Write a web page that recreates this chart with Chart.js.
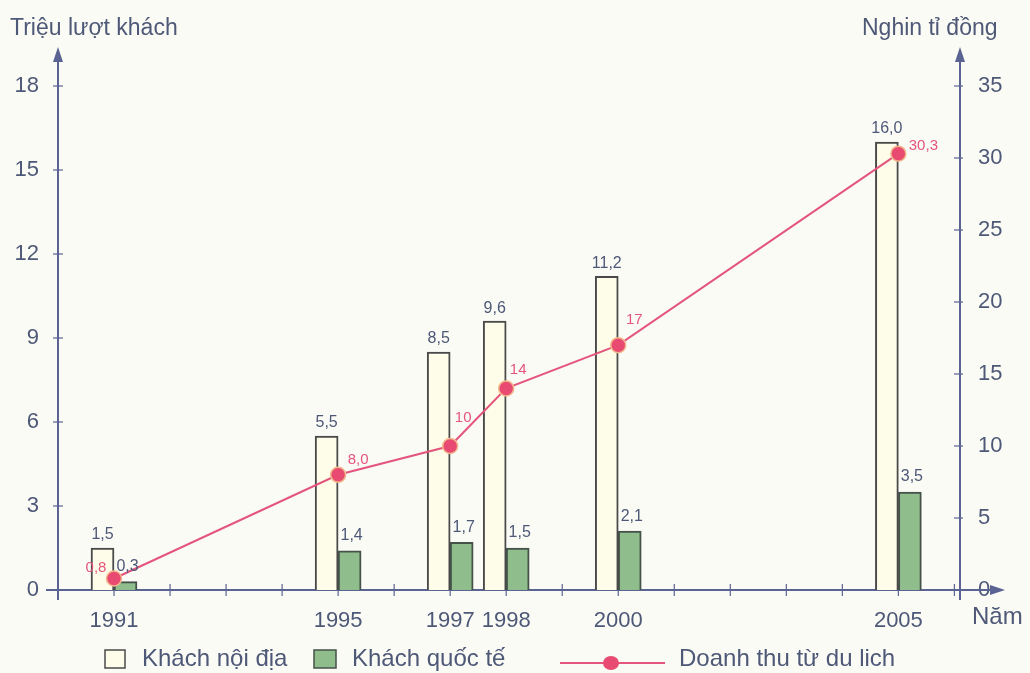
<!DOCTYPE html>
<html>
<head>
<meta charset="utf-8">
<script src="https://cdn.jsdelivr.net/npm/chart.js@4.4.1/dist/chart.umd.min.js"></script>
<style>
  html, body { margin: 0; padding: 0; background: #fbfbf6; }
  #wrap { width: 1030px; height: 673px; }
</style>
</head>
<body>
<div id="wrap"><canvas id="chart"></canvas></div>
<script>
// --- DATA ---
const years = [1991, 1995, 1997, 1998, 2000, 2005];
const domestic = [1.5, 5.5, 8.5, 9.6, 11.2, 16.0];
const international = [0.3, 1.4, 1.7, 1.5, 2.1, 3.5];
const revenue = [0.8, 8.0, 10, 14, 17, 30.3];
const revenueLabels = ['0,8', '8,0', '10', '14', '17', '30,3'];
const leftTicks = [0, 3, 6, 9, 12, 15, 18];
const rightTicks = [0, 5, 10, 15, 20, 25, 30, 35];

// --- STYLE ---
const FONT = '"Liberation Sans", Arial, sans-serif';
const TEXT = '#4e5877';
const AXIS = '#5a6392';
const PINK = '#e4557d';
const GREEN = '#8fbd8b';
// where each revenue label sits relative to its point
const revLabelOffset = [[-18, -11], [20, -15], [13, -28], [12, -19], [16, -25], [25, -8]];

const fmt = v => v.toFixed(1).replace('.', ',');

function seg(ctx, x1, y1, x2, y2) {
    ctx.beginPath(); ctx.moveTo(x1, y1); ctx.lineTo(x2, y2); ctx.stroke();
}

const decor = {
    id: 'decor',
    beforeDraw(chart) {
        const ctx = chart.ctx;
        ctx.save();
        ctx.fillStyle = '#fbfbf6';
        ctx.fillRect(0, 0, chart.width, chart.height);
        ctx.restore();
    },
    beforeDatasetsDraw(chart) {
        const { ctx, chartArea: a, scales: { x, y, y1 } } = chart;
        ctx.save();
        ctx.strokeStyle = AXIS;
        ctx.fillStyle = AXIS;
        ctx.lineWidth = 2;

        // vertical axes with arrows
        [a.left, a.right].forEach(px => {
            seg(ctx, px, a.bottom + 10, px, 58);
            ctx.beginPath();
            ctx.moveTo(px, 47); ctx.lineTo(px - 5, 62); ctx.lineTo(px + 5, 62); ctx.closePath();
            ctx.fill();
        });
        // x axis with arrow
        seg(ctx, 46, a.bottom, 995, a.bottom);
        ctx.beginPath();
        ctx.moveTo(1005, a.bottom); ctx.lineTo(990, a.bottom - 5); ctx.lineTo(990, a.bottom + 5); ctx.closePath();
        ctx.fill();

        ctx.lineWidth = 1.2;
        leftTicks.forEach(v => { const py = y.getPixelForValue(v); seg(ctx, a.left - 5, py, a.left + 5, py); });
        rightTicks.forEach(v => { const py = y1.getPixelForValue(v); seg(ctx, a.right - 6, py, a.right + 3, py); });
        for (let yr = 1991; yr <= 2006; yr++) {
            const px = x.getPixelForValue(yr);
            seg(ctx, px, a.bottom - 6, px, a.bottom + 6);
        }
        ctx.restore();
    },
    afterDatasetsDraw(chart) {
        const ctx = chart.ctx;
        const a = chart.chartArea;
        ctx.save();
        ctx.textAlign = 'center';
        ctx.textBaseline = 'middle';

        // bar value labels
        ctx.fillStyle = TEXT;
        ctx.font = '16px ' + FONT;
        chart.getDatasetMeta(0).data.forEach((el, i) => ctx.fillText(fmt(domestic[i]), el.x, el.y - 13));
        chart.getDatasetMeta(1).data.forEach((el, i) => ctx.fillText(fmt(international[i]), el.x + 2, el.y - 15));

        // revenue labels
        ctx.fillStyle = PINK;
        ctx.font = '15px ' + FONT;
        chart.getDatasetMeta(2).data.forEach((el, i) => {
            const [dx, dy] = revLabelOffset[i];
            ctx.fillText(revenueLabels[i], el.x + dx, el.y + dy);
        });

        // axis titles
        ctx.fillStyle = TEXT;
        ctx.font = '23px ' + FONT;
        ctx.textAlign = 'left';
        ctx.fillText('Triệu lượt khách', 10, 29);
        ctx.fillText('Nghin tỉ đồng', 862, 29);
        ctx.font = '24px ' + FONT;
        ctx.fillText('Năm', 972, a.bottom + 27);

        // legend
        const ly = 659;
        ctx.font = '24px ' + FONT;
        ctx.lineWidth = 1.5;
        ctx.fillStyle = '#fdfdea';
        ctx.strokeStyle = '#4a4a4a';
        ctx.fillRect(105, ly - 9, 20, 18);
        ctx.strokeRect(105, ly - 9, 20, 18);
        ctx.fillStyle = TEXT;
        ctx.fillText('Khách nội địa', 142, ly);

        ctx.fillStyle = GREEN;
        ctx.strokeStyle = '#44524a';
        ctx.fillRect(314, ly - 9, 22, 18);
        ctx.strokeRect(314, ly - 9, 22, 18);
        ctx.fillStyle = TEXT;
        ctx.fillText('Khách quốc tế', 352, ly);

        ctx.strokeStyle = PINK;
        ctx.lineWidth = 2;
        seg(ctx, 560, ly + 4, 665, ly + 4);
        ctx.fillStyle = '#e84a72';
        ctx.beginPath();
        ctx.ellipse(611, ly + 4, 8, 7, 0, 0, Math.PI * 2);
        ctx.fill();
        ctx.fillStyle = TEXT;
        ctx.fillText('Doanh thu từ du lich', 679, ly);
        ctx.restore();
    }
};

const ctxMain = document.getElementById('chart').getContext('2d');
const chart = new Chart(ctxMain, {
    type: 'bar',
    data: {
        datasets: [
            {
                label: 'Khách nội địa',
                data: years.map((yr, i) => ({ x: yr, y: domestic[i] })),
                backgroundColor: '#fdfdea', borderColor: '#4a4a4a', borderWidth: 2,
                barThickness: 23, yAxisID: 'y', order: 2
            },
            {
                label: 'Khách quốc tế',
                data: years.map((yr, i) => ({ x: yr, y: international[i] })),
                backgroundColor: GREEN, borderColor: '#44524a', borderWidth: 2,
                barThickness: 23, yAxisID: 'y', order: 2
            },
            {
                type: 'line',
                label: 'Doanh thu từ du lich',
                data: years.map((yr, i) => ({ x: yr, y: revenue[i] })),
                borderColor: PINK, borderWidth: 2, tension: 0,
                pointRadius: 7.5, pointBackgroundColor: '#e84a72',
                pointBorderColor: '#f2b98c', pointBorderWidth: 1.5,
                yAxisID: 'y1', order: 0
            }
        ]
    },
    options: {
        responsive: true,
        maintainAspectRatio: false,
        animation: false,
        layout: { padding: { top: 86, left: 0, right: 0, bottom: 0 } },
        plugins: { legend: { display: false }, tooltip: { enabled: false } },
        scales: {
            x: {
                type: 'linear', min: 1990, max: 2006.1, offset: false,
                grid: { display: false, offset: false }, border: { display: false },
                afterBuildTicks: s => { s.ticks = years.map(v => ({ value: v })); },
                afterFit: s => { s.height = 83; },
                ticks: { autoSkip: false, maxRotation: 0, padding: 10, color: TEXT,
                         font: { family: FONT, size: 22 }, callback: v => String(v) }
            },
            y: {
                position: 'left', min: 0, max: 18,
                grid: { display: false }, border: { display: false },
                afterBuildTicks: s => { s.ticks = leftTicks.map(v => ({ value: v })); },
                afterFit: s => { s.width = 58; },
                ticks: { padding: 11, color: TEXT, font: { family: FONT, size: 22 } }
            },
            y1: {
                position: 'right', min: 0, max: 35,
                grid: { display: false }, border: { display: false },
                afterBuildTicks: s => { s.ticks = rightTicks.map(v => ({ value: v })); },
                afterFit: s => { s.width = 70; },
                ticks: { padding: 10, color: TEXT, font: { family: FONT, size: 22 } }
            }
        }
    },
    plugins: [decor]
});
</script>
</body>
</html>
